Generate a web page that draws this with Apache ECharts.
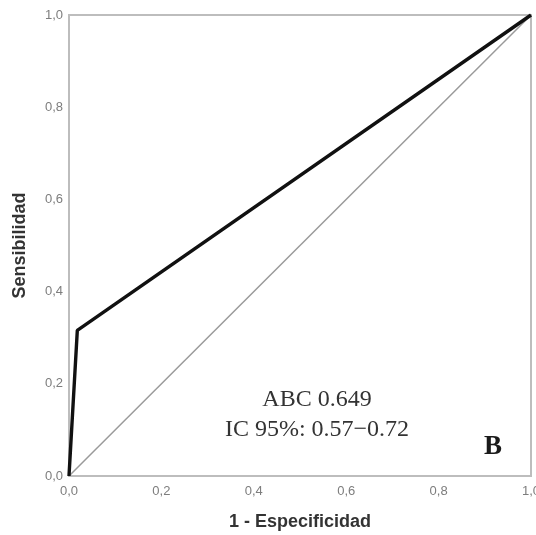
<!DOCTYPE html>
<html>
<head>
<meta charset="utf-8">
<script src="https://cdn.jsdelivr.net/npm/echarts@6/dist/echarts.min.js"></script>
<style>
  html, body { margin: 0; padding: 0; background: #fff; }
  #main { width: 536px; height: 535px; }
</style>
</head>
<body>
<div id="main"></div>
<script>
// curva ROC: (1 - especificidad, sensibilidad)
var rocPoints = [[0, 0], [0.018, 0.316], [1, 1]];
var refLine = [[0, 0], [1, 1]];
var axisTicks = [0, 0.2, 0.4, 0.6, 0.8, 1.0];
var aucText = 'ABC 0.649';
var ciText = 'IC 95%: 0.57\u22120.72';
var panelLetter = 'B';

function comma(v) {
    return v.toFixed(1).replace('.', ',');
}

var chart = echarts.init(document.getElementById('main'));
chart.setOption({
    animation: false,
    grid: {
        left: 69, right: 5, top: 15, bottom: 59,
        containLabel: false, outerBoundsMode: 'none',
        show: true, borderColor: '#bdbdbd', borderWidth: 2
    },
    xAxis: {
        type: 'value', min: 0, max: 1, interval: 0.2,
        name: '1 - Especificidad', nameLocation: 'middle', nameGap: 37,
        nameTextStyle: { fontFamily: 'Liberation Sans', fontWeight: 'bold', fontSize: 18, color: '#333' },
        axisLine: { show: false }, axisTick: { show: false }, splitLine: { show: false },
        axisLabel: {
            margin: 9, color: '#7d7d7d', fontSize: 13, fontFamily: 'Liberation Sans',
            formatter: function (v) { return comma(v); }
        }
    },
    yAxis: {
        type: 'value', min: 0, max: 1, interval: 0.2,
        name: 'Sensibilidad', nameLocation: 'middle', nameGap: 40,
        nameTextStyle: { fontFamily: 'Liberation Sans', fontWeight: 'bold', fontSize: 18, color: '#333' },
        axisLine: { show: false }, axisTick: { show: false }, splitLine: { show: false },
        axisLabel: {
            margin: 6, color: '#7d7d7d', fontSize: 13, fontFamily: 'Liberation Sans',
            formatter: function (v) { return comma(v); }
        }
    },
    series: [
        {
            type: 'line', data: refLine, symbol: 'none', silent: true,
            lineStyle: { color: '#9a9a9a', width: 1.5 }
        },
        {
            type: 'line', data: rocPoints, symbol: 'none', silent: true,
            lineStyle: { color: '#111', width: 3.4 }
        }
    ],
    graphic: [
        {
            type: 'text', x: 317, y: 400,
            style: { text: aucText, fontFamily: 'Liberation Serif', fontSize: 24, fill: '#333', textAlign: 'center', textVerticalAlign: 'middle' }
        },
        {
            type: 'text', x: 317, y: 430,
            style: { text: ciText, fontFamily: 'Liberation Serif', fontSize: 24, fill: '#333', textAlign: 'center', textVerticalAlign: 'middle' }
        },
        {
            type: 'text', x: 493, y: 447,
            style: { text: panelLetter, fontFamily: 'Liberation Serif', fontWeight: 'bold', fontSize: 27, fill: '#1a1a1a', textAlign: 'center', textVerticalAlign: 'middle' }
        }
    ]
});
</script>
</body>
</html>
